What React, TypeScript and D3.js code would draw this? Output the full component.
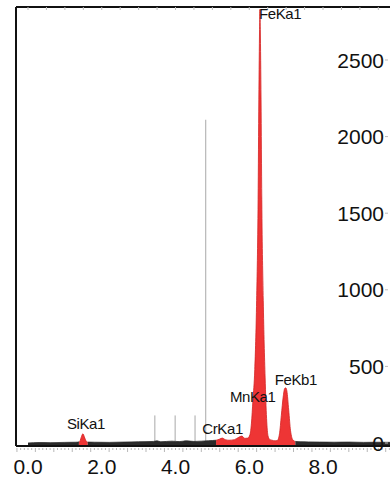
import * as d3 from 'd3';

// spectrum (keV as drawn on the axis, counts)
const SPEC_E = [0.0, 0.3, 0.6, 1.0, 1.3, 1.4, 1.44, 1.49, 1.54, 1.6, 1.8, 2.2, 2.6, 3.0, 3.4, 3.5, 3.6, 3.9, 4.1, 4.3, 4.5, 4.7, 4.9, 5.1, 5.2, 5.27, 5.35, 5.45, 5.6, 5.72, 5.8, 5.88, 5.96, 6.02, 6.06, 6.1, 6.15, 6.2, 6.24, 6.26, 6.28, 6.29, 6.30, 6.32, 6.34, 6.38, 6.43, 6.47, 6.51, 6.56, 6.62, 6.7, 6.76, 6.82, 6.87, 6.92, 6.96, 6.99, 7.02, 7.07, 7.12, 7.19, 7.26, 7.4, 7.6, 7.9, 8.3, 8.7, 9.1, 9.5, 9.9];
const SPEC_C = [0, 3, 2, 4, 5, 8, 35, 60, 32, 6, 5, 4, 6, 8, 10, 14, 8, 12, 9, 14, 10, 12, 15, 18, 26, 32, 22, 18, 22, 38, 45, 30, 32, 55, 130, 280, 480, 930, 1590, 2240, 2700, 2830, 2700, 2240, 1590, 930, 430, 160, 45, 22, 18, 14, 16, 60, 180, 300, 355, 360, 340, 215, 80, 18, 10, 8, 7, 6, 5, 6, 4, 5, 4];

const X_TICKS = [0, 2, 4, 6, 8];
const Y_TICKS = [0, 500, 1000, 1500, 2000, 2500];

const PEAK_NAMES = ['SiKa1', 'CrKa1', 'MnKa1', 'FeKa1', 'FeKb1'];
const PEAK_E = [1.49, 5.27, 5.8, 6.29, 6.99];
const PEAK_C = [60, 32, 45, 2830, 360];

// marker lines drawn by the software (keV, counts reached)
const MARKER_E = [3.44, 3.99, 4.53, 4.82];
const MARKER_C = [180, 180, 180, 2110];

// energy bands where the spectrum is not coloured as a peak
const NOISE_BANDS: [number, number][] = [[-0.4, 1.38], [1.62, 5.1], [7.25, 10]];

// label offsets from their peak (layout only)
const LABEL_DX = [-16, -20, -12, -1, -11];
const LABEL_DY = [-5, -4, -34, 10, -3];

const W = 390, H = 478;

export default function App() {
  const x = d3.scaleLinear().domain([0, 8]).range([28, 323]);
  const y = d3.scaleLinear().domain([0, 2500]).range([443, 60]);
  const baseY = 446;
  const frameL = 16, frameT = 7;

  const pts: [number, number][] = SPEC_E.map((e, i) => [e, SPEC_C[i]]);
  const area = d3.area<[number, number]>()
    .x(d => x(d[0]))
    .y0(baseY)
    .y1(d => Math.max(frameT + 1, y(d[1])))
    .curve(d3.curveMonotoneX);
  const line = d3.line<[number, number]>()
    .x(d => x(d[0]))
    .y(d => Math.max(frameT + 1, y(d[1])))
    .curve(d3.curveMonotoneX);

  const minor = d3.range(-0.3, 9.9, 0.1);
  const topTicks = d3.range(0, 10, 0.5);

  return (
    <svg width={W} height={H} style={{ display: 'block', position: 'absolute', left: 0, top: 0, background: '#fff' }}
      fontFamily="'Liberation Sans', Arial, sans-serif">
      <defs>
        <clipPath id="noise">
          {NOISE_BANDS.map(([a, b], i) => (
            <rect key={i} x={x(a)} y={0} width={x(b) - x(a)} height={H} />
          ))}
        </clipPath>
      </defs>

      {/* marker lines */}
      {MARKER_E.map((e, i) => (
        <line key={i} x1={x(e)} x2={x(e)} y1={y(MARKER_C[i])} y2={baseY}
          stroke="#a8a8a8" strokeWidth={1} />
      ))}

      {/* spectrum: red peaks, dark background noise */}
      <path d={area(pts) ?? ''} fill="#ee3535" />
      <path d={line(pts) ?? ''} fill="none" stroke="#d42222" strokeWidth={0.8} />
      <g clipPath="url(#noise)">
        <rect x={0} y={0} width={W} height={baseY} fill="#fff" />
        {MARKER_E.map((e, i) => (
          <line key={i} x1={x(e)} x2={x(e)} y1={y(MARKER_C[i])} y2={baseY}
            stroke="#a8a8a8" strokeWidth={1} />
        ))}
        <path d={area(pts) ?? ''} fill="#2a2a2a" />
        <path d={line(pts) ?? ''} fill="none" stroke="#2a2a2a" strokeWidth={0.8} />
      </g>

      {/* frame */}
      <line x1={frameL} x2={W} y1={frameT} y2={frameT} stroke="#111" strokeWidth={2} />
      <line x1={frameL} x2={frameL} y1={frameT} y2={baseY} stroke="#111" strokeWidth={2} />
      <line x1={frameL} x2={W} y1={baseY} y2={baseY} stroke="#111" strokeWidth={2.2} />
      {topTicks.map(t => (
        <line key={t} x1={x(t)} x2={x(t)} y1={frameT} y2={frameT + 3} stroke="#bbb" strokeWidth={1} />
      ))}
      {minor.map((t, i) => (
        <line key={i} x1={x(t)} x2={x(t)} y1={baseY + 2} y2={baseY + (i % 5 === 0 ? 6 : 4)}
          stroke="#999" strokeWidth={0.7} />
      ))}

      {/* x tick labels */}
      {X_TICKS.map(t => (
        <text key={t} x={x(t)} y={474} fontSize={21} textAnchor="middle" fill="#111">
          {t.toFixed(1)}
        </text>
      ))}

      {/* y tick labels on the right */}
      {Y_TICKS.map(t => (
        <g key={t}>
          <text x={384} y={y(t) + 7.5} fontSize={21} textAnchor="end" fill="#111">{t}</text>
          <line x1={385} x2={388} y1={y(t)} y2={y(t)} stroke="#bbb" strokeWidth={1} />
        </g>
      ))}

      {/* peak labels */}
      {PEAK_NAMES.map((n, i) => (
        <text key={n} x={x(PEAK_E[i]) + LABEL_DX[i]} y={Math.max(frameT + 1, y(PEAK_C[i])) + LABEL_DY[i]}
          fontSize={15} fill="#111" letterSpacing={-0.4}>{n}</text>
      ))}
    </svg>
  );
}
